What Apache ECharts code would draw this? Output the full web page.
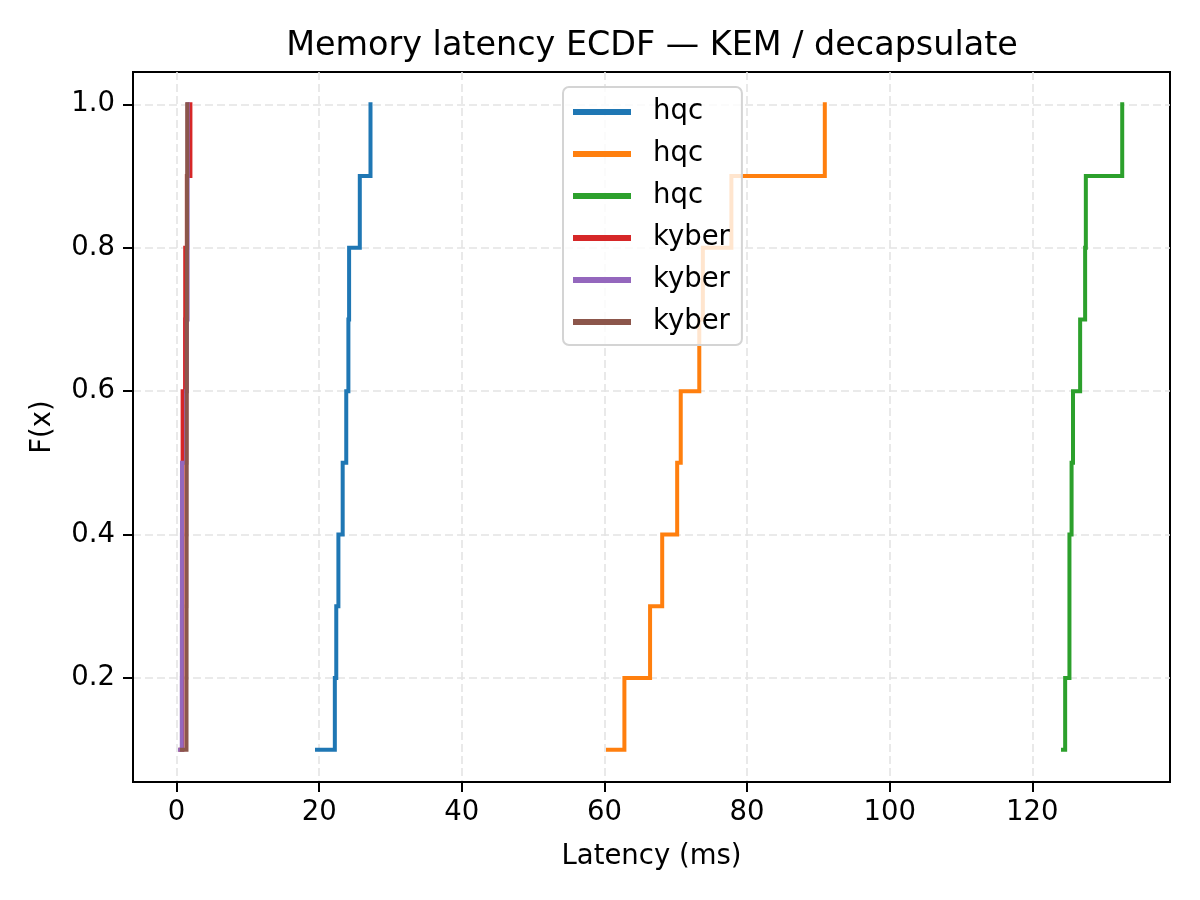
<!DOCTYPE html>
<html>
<head>
<meta charset="utf-8">
<title>Memory latency ECDF</title>
<script src="https://cdn.jsdelivr.net/npm/echarts@6/dist/echarts.min.js"></script>
<style>
    html, body { margin: 0; padding: 0; background: #fff; }
    #chart { width: 1200px; height: 900px; }
</style>
</head>
<body>
<div id="chart"></div>
<script>
// ECDF levels shared by every run (10 samples each)
var ecdfLevels = [0.1, 0.2, 0.3, 0.4, 0.5, 0.6, 0.7, 0.8, 0.9, 1.0];

// sorted latency samples (ms)
var hqcA = [19.7, 22.2, 22.4, 22.7, 23.3, 23.8, 24.1, 24.2, 25.7, 27.2];
var hqcB = [60.5, 62.8, 66.4, 68.1, 70.2, 70.7, 73.3, 73.8, 77.8, 90.9];
var hqcC = [124.3, 124.6, 125.2, 125.2, 125.5, 125.7, 126.7, 127.4, 127.5, 132.6];
var kyberA = [0.55, 0.82, 0.83, 0.84, 0.85, 0.86, 1.2, 1.22, 1.45, 1.95];
var kyberB = [0.5, 0.74, 0.75, 0.76, 0.77, 1.35, 1.45, 1.55, 1.56, 1.58];
var kyberC = [0.75, 1.4, 1.41, 1.42, 1.43, 1.44, 1.45, 1.46, 1.47, 1.5];

var seriesNames = ["hqc", "hqc", "hqc", "kyber", "kyber", "kyber"];
var seriesSamples = [hqcA, hqcB, hqcC, kyberA, kyberB, kyberC];
var seriesColors = ["#1f77b4", "#ff7f0e", "#2ca02c", "#d62728", "#9467bd", "#8c564b"];

var xTicks = [0, 20, 40, 60, 80, 100, 120];
var yTicks = [0.2, 0.4, 0.6, 0.8, 1.0];

var FONT = "DejaVu Sans";

// step "post": stay at level j until the next sample, then jump up
function stepPoints(samples) {
    let pts = [[samples[0], ecdfLevels[0]]];
    for (let j = 1; j < samples.length; j++) {
        pts.push([samples[j], ecdfLevels[j - 1]]);
        pts.push([samples[j], ecdfLevels[j]]);
    }
    return pts;
}

// lines series (polyline) so the tiny horizontal steps are not dropped
function buildSeries() {
    let out = [];
    for (let i = 0; i < seriesSamples.length; i++) {
        out.push({
            // legend keys must be unique, the visible text is the run name
            name: "s" + i,
            type: "lines",
            coordinateSystem: "cartesian2d",
            polyline: true,
            data: [{coords: stepPoints(seriesSamples[i])}],
            lineStyle: {color: seriesColors[i], width: 4, cap: "square", join: "miter", opacity: 1},
            itemStyle: {color: seriesColors[i]},
            z: 2 + i
        });
    }
    return out;
}

var gridLine = {show: true, lineStyle: {color: "#e4e4e4", width: 1.6, type: [8, 4]}};

var chart = echarts.init(document.getElementById("chart"));
var option = {
    animation: false,
    backgroundColor: "#fff",
    textStyle: {fontFamily: FONT},
    title: {
        text: "Memory latency ECDF \u2014 KEM / decapsulate",
        left: 647, top: 25, textAlign: "center",
        textStyle: {fontFamily: FONT, fontSize: 33.4, fontWeight: "normal", color: "#000"}
    },
    grid: {
        left: 133, right: 30, top: 72, bottom: 118,
        show: true, borderColor: "#000", borderWidth: 2, backgroundColor: "transparent"
    },
    legend: {
        left: 563, top: 87,
        orient: "vertical",
        icon: "rect",
        itemWidth: 56, itemHeight: 4,
        itemGap: 14,
        padding: [11, 12, 9, 10],
        backgroundColor: "rgba(255,255,255,0.8)",
        borderColor: "#d4d4d4", borderWidth: 2, borderRadius: 6,
        textStyle: {fontFamily: FONT, fontSize: 27.5, color: "#000", padding: [0, 0, 0, 18]},
        formatter: function (name) {
            return seriesNames[parseInt(name.substring(1))];
        },
        data: seriesNames.map(function (n, i) {
            return {name: "s" + i, itemStyle: {color: seriesColors[i]}};
        })
    },
    xAxis: {
        type: "value",
        min: -6.1, max: 139.3,
        name: "Latency (ms)", nameLocation: "middle", nameGap: 61,
        nameTextStyle: {fontFamily: FONT, fontSize: 27.5, color: "#000"},
        axisLine: {show: true, onZero: false, lineStyle: {color: "#000", width: 2}},
        axisTick: {show: true, inside: false, length: 10, lineStyle: {color: "#000", width: 2}, customValues: xTicks},
        axisLabel: {fontFamily: FONT, fontSize: 27.5, color: "#000", margin: 17, customValues: xTicks},
        splitLine: gridLine
    },
    yAxis: {
        type: "value",
        min: 0.055, max: 1.045,
        name: "F(x)", nameLocation: "middle", nameGap: 76, nameRotate: 90,
        nameTextStyle: {fontFamily: FONT, fontSize: 27.5, color: "#000"},
        axisLine: {show: true, onZero: false, lineStyle: {color: "#000", width: 2}},
        axisTick: {show: true, inside: false, length: 10, lineStyle: {color: "#000", width: 2}, customValues: yTicks},
        axisLabel: {
            fontFamily: FONT, fontSize: 27.5, color: "#000", margin: 18, customValues: yTicks,
            formatter: function (v) { return v.toFixed(1); }
        },
        splitLine: gridLine
    },
    series: buildSeries()
};
chart.setOption(option);
</script>
</body>
</html>
